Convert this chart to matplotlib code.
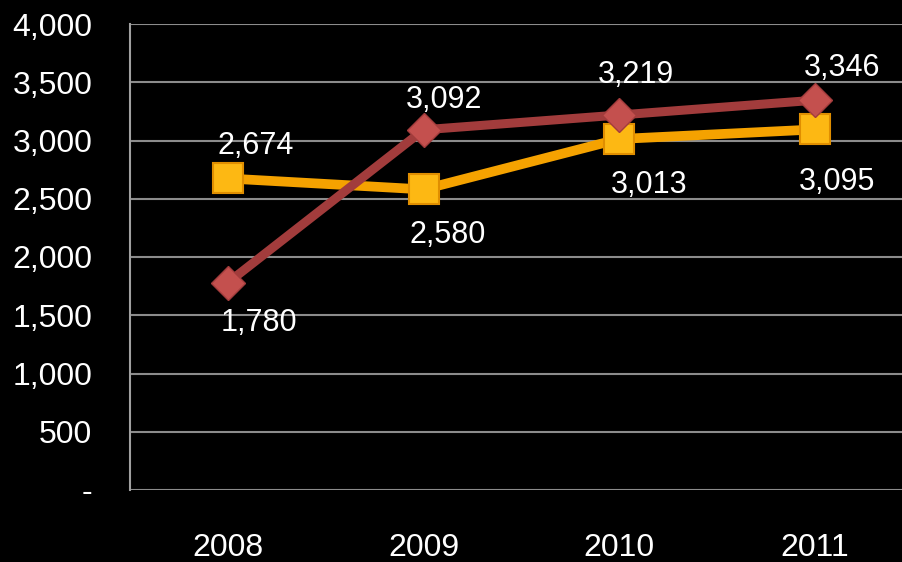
import matplotlib.pyplot as plt
from matplotlib.ticker import FuncFormatter

years = ["2008", "2009", "2010", "2011"]
red_vals = [1780, 3092, 3219, 3346]
orange_vals = [2674, 2580, 3013, 3095]

plt.rcParams['font.family'] = ['Liberation Sans', 'DejaVu Sans']

fig = plt.figure(figsize=(9.03, 5.62), dpi=100, facecolor='black')
ax = fig.add_axes([130 / 903, 72 / 562, 783 / 903, 466 / 562])
ax.set_facecolor('black')

x = range(len(years))

ax.plot(x, orange_vals, color='#F5A200', lw=7, zorder=3,
        marker='s', ms=21, mfc='#FDB813', mec='#E08E00', mew=1.5)
ax.plot(x, red_vals, color='#A23C3C', lw=6.5, zorder=4,
        marker='D', ms=17, mfc='#C4504E', mec='#A23C3C', mew=1)

# label offsets in pixels (dx, dy)
red_off = [(31, -40), (20, 30), (17, 40), (27, 32)]
orange_off = [(28, 32), (24, -46), (30, -46), (22, -53)]
for i, v in enumerate(red_vals):
    ax.annotate(f"{v:,}", (i, v), xytext=red_off[i], textcoords='offset pixels',
                ha='center', va='center', color='white', fontsize=22, zorder=6)
for i, v in enumerate(orange_vals):
    ax.annotate(f"{v:,}", (i, v), xytext=orange_off[i], textcoords='offset pixels',
                ha='center', va='center', color='white', fontsize=22, zorder=6)

ax.set_xlim(-0.5, len(years) - 0.5)
ax.set_ylim(0, 4000)
ax.set_yticks(range(0, 4001, 500))
ax.yaxis.set_major_formatter(FuncFormatter(lambda v, p: "-" if v == 0 else f"{int(v):,}"))
ax.set_xticks(list(x))
ax.set_xticklabels(years)
ax.tick_params(axis='both', length=0, colors='white', labelsize=23)
ax.tick_params(axis='y', pad=27)
ax.tick_params(axis='x', pad=31)

ax.grid(axis='y', color='#8C8C8C', lw=1.5, zorder=1)
for s in ['top', 'right', 'bottom']:
    ax.spines[s].set_visible(False)
ax.spines['left'].set_color('#A0A0A0')
ax.spines['left'].set_linewidth(1.5)

fig.savefig('out.png', dpi=100, facecolor='black')
